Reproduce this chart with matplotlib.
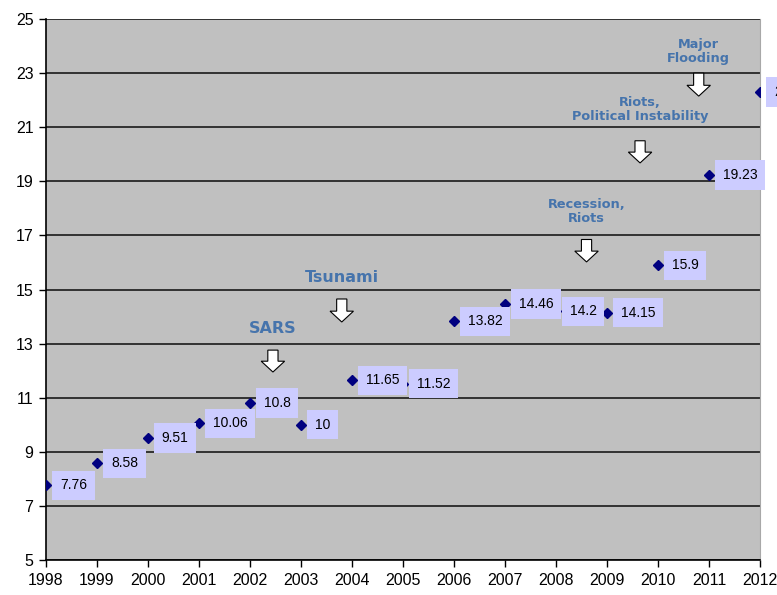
import matplotlib
matplotlib.use('Agg')
import matplotlib.pyplot as plt
from matplotlib.patches import FancyArrow

# yearly values
years = list(range(1998, 2013))
values = [7.76, 8.58, 9.51, 10.06, 10.8, 10, 11.65, 11.52, 13.82, 14.46, 14.2, 14.15, 15.9, 19.23, 22.3]

# event notes: text, x, y of text, arrow top, arrow bottom, font size
events = [
    ('SARS', 2002.45, 13.55, 12.76, 11.95, 11.5),
    ('Tsunami', 2003.8, 15.45, 14.65, 13.8, 11.5),
    ('Recession,\nRiots', 2008.6, 17.9, 16.85, 16.02, 9.3),
    ('Riots,\nPolitical Instability', 2009.65, 21.65, 20.5, 19.68, 9.3),
    ('Major\nFlooding', 2010.8, 23.8, 23.0, 22.15, 9.3),
]

fig = plt.figure(figsize=(7.77, 5.95), dpi=100)
ax = fig.add_axes([0.0592, 0.0588, 0.9188, 0.9092])
ax.set_facecolor('#C0C0C0')

ax.plot(years, values, linestyle='none', marker='D', markersize=4.8,
        color='#000080', zorder=3)

for x, v in zip(years, values):
    ax.annotate('%g' % v, xy=(x, v), xytext=(10, 0), textcoords='offset points',
                va='center', ha='left', fontsize=10, family='Liberation Sans',
                bbox=dict(boxstyle='square,pad=0.55', fc='#CCCCFF', ec='none'),
                annotation_clip=False, zorder=4)

for txt, x, ty, a_top, a_bot, fs in events:
    ax.text(x, ty, txt, ha='center', va='center', fontsize=fs, fontweight='bold',
            color='#4674AC', linespacing=1.1, zorder=5)
    ax.add_patch(FancyArrow(x, a_top, 0, a_bot - a_top, width=0.2, head_width=0.46,
                            head_length=0.4, length_includes_head=True,
                            fc='white', ec='black', lw=0.8, zorder=5))

ax.set_xlim(1998, 2012)
ax.set_ylim(5, 25)
ax.set_xticks(years)
ax.set_yticks(range(5, 26, 2))
ax.yaxis.grid(True, color='#1a1a1a', linewidth=1.2)
ax.set_axisbelow(True)

for lab in ax.get_xticklabels() + ax.get_yticklabels():
    lab.set_family('Liberation Sans')
    lab.set_fontsize(11.5)
ax.tick_params(direction='out', length=5, width=1, color='black', pad=4)

ax.spines['top'].set_visible(False)
ax.spines['right'].set_color('#A8A8A8')
ax.spines['left'].set_linewidth(1.2)
ax.spines['bottom'].set_linewidth(1.2)

fig.savefig('out.png', dpi=100)
